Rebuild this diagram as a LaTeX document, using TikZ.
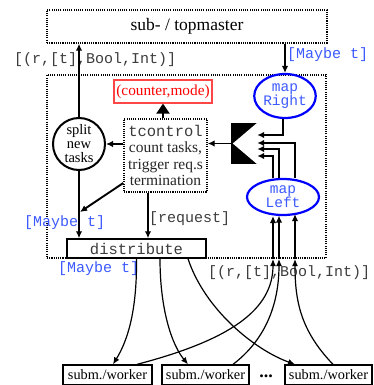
\documentclass[tikz,border=0pt]{standalone}
\usepackage{fontspec}
\setmainfont{Liberation Serif}
\setmonofont{Liberation Mono}
\usetikzlibrary{arrows.meta,shapes.geometric,calc}
\definecolor{lblue}{RGB}{60,90,255}
\definecolor{dgray}{RGB}{60,60,60}
\definecolor{lred}{RGB}{255,70,70}
\begin{document}
\begin{tikzpicture}[x=1pt,y=-1pt,
  dotbox/.style={draw,line width=1.4pt,dash pattern=on 1.1pt off 1.1pt,inner sep=0pt},
  arr/.style={line width=1.9pt,-{Latex[length=7pt,width=6.5pt]}},
  thinarr/.style={line width=1.2pt,-{Latex[length=7pt,width=6pt]}},
  ttl/.style={font=\fontsize{15}{15}\ttfamily,inner sep=0pt,anchor=west},
  blueell/.style={ellipse,draw=blue,line width=2.2pt,inner sep=0pt,text=lblue,align=center,font=\fontsize{14.5}{14}\ttfamily},
  worker/.style={draw,line width=1.3pt,minimum width=#1,minimum height=20pt,inner sep=0pt,font=\fontsize{14.3}{14}\selectfont}
]
\useasboundingbox (0,0) rectangle (374,385);
% boxes
\node[dotbox,minimum width=280pt,minimum height=33pt,font=\fontsize{17.5}{18}\selectfont] (top) at (187,26.5) {sub- / topmaster};
\node[dotbox,minimum width=279pt,minimum height=183pt] (outer) at (186.5,166.5) {};
\node[blueell,minimum width=50pt,minimum height=44pt] (mapR) at (285,96) {map\\Right};
\node[draw=lred,line width=1.2pt,text=red,minimum width=98pt,minimum height=23pt,inner sep=0pt,font=\fontsize{15.3}{15}\selectfont] (counter) at (163,91.5) {(counter,mode)};
\node[dotbox,minimum width=83pt,minimum height=73pt,align=center,text=black!85,font=\fontsize{15.5}{16.5}\selectfont] (tctrl) at (165.5,155.5) {{\ttfamily\color{dgray}tcontrol}\\count tasks,\\trigger req.s\\termination};
\node[circle,draw,line width=2pt,minimum size=52pt,inner sep=0pt,align=center,font=\fontsize{14.5}{14}\selectfont] (split) at (79,144) {split\\new\\tasks};
\node[fill=black,minimum width=26pt,minimum height=41pt,inner sep=0pt] (merge) at (244,143.5) {};
\fill[white] (merge.north east) -- (merge.south east) -- ([xshift=2pt]merge.west) -- cycle;
\node[blueell,minimum width=72pt,minimum height=36pt] (mapL) at (283,197) {map\\Left};
\node[draw,line width=1.5pt,minimum width=139pt,minimum height=19pt,inner sep=0pt,font=\fontsize{15.5}{15}\ttfamily,text=dgray] (dist) at (136.5,248.5) {distribute};
\node[worker=89pt] (w1) at (107.5,375) {subm./worker};
\node[worker=87pt] (w2) at (205.5,375) {subm./worker};
\node[worker=87pt] (w3) at (328.5,375) {subm./worker};
\node[font=\bfseries\fontsize{18}{18}\selectfont,inner sep=0pt] (dots) at (266,376) {...};
% labels
\node[ttl,text=dgray] (l1) at (14,60) {[(r,[t],Bool,Int)]};
\node[ttl,text=lblue] (l2) at (287,55) {[Maybe t]};
\node[ttl,text=lblue] (l3) at (24,223) {[Maybe t]};
\node[ttl,text=dgray] (l4) at (149,219) {[request]};
\node[ttl,text=lblue] (l5) at (58,269) {[Maybe t]};
\node[ttl,text=dgray] (l6) at (208,273) {[(r,[t],Bool,Int)]};
% connectors
\draw[arr] (split.north) -- (split.north |- top.south);
\draw[arr] (top.south -| mapR.north) -- (mapR.north);
\draw[line width=1.9pt,-{Triangle[length=10pt,width=13pt]}] (tctrl.north -| counter.south) -- (counter.south);
\draw[arr] (tctrl.west |- split.east) -- (split.east);
\draw[arr] (merge.west) -- (merge.west -| tctrl.east);
\draw[arr] ([xshift=-2pt]mapR.south) |- ([yshift=8.5pt]merge.east);
\draw[arr] ([xshift=12pt]mapL.north) |- ([yshift=0.5pt]merge.east);
\draw[arr] ([xshift=-4pt]mapL.north) |- ([yshift=-5.5pt]merge.east);
\draw[arr] ([xshift=-10pt]mapL.north) |- ([yshift=-12.5pt]merge.east);
\draw[arr] (split.south) -- (split.south |- dist.north);
\draw[arr] ([xshift=-17.5pt]tctrl.south) -- ([xshift=-17.5pt]tctrl.south |- dist.north);
\coordinate (j) at (80,212);
\draw[arr] ([yshift=-27.5pt]tctrl.west) -- (j);
% outer-box entry points
\coordinate (e1) at (273,259);
\coordinate (e2) at (279,259);
\coordinate (e3) at (295,259);
\draw[arr] (e1) -- (e1 |- mapL.south);
\draw[arr] (e2) -- ([yshift=0.5pt]e2 |- mapL.south);
\draw[arr] (e3) -- ([yshift=2pt]e3 |- mapL.south);
% distribute to workers
\draw[thinarr] (dist.south) .. controls (137,310) and (128,340) .. ([xshift=5.5pt]w1.north);
\draw[thinarr] ([xshift=23.5pt]dist.south) .. controls (160,310) and (172,345) .. ([xshift=-17.5pt]w2.north);
\draw[thinarr] ([xshift=51.5pt]dist.south) .. controls (205,310) and (255,350) .. ([xshift=-33.5pt]w3.north);
% workers to mapLeft
\draw[thinarr] ([xshift=29.5pt]w1.north) .. controls (230,340) and (273,310) .. (e1);
\draw[thinarr] ([xshift=27.5pt]w2.north) .. controls (265,340) and (279,305) .. (e2);
\draw[thinarr] ([xshift=4.5pt]w3.north) .. controls (300,330) and (295,300) .. (e3);
\end{tikzpicture}
\end{document}
